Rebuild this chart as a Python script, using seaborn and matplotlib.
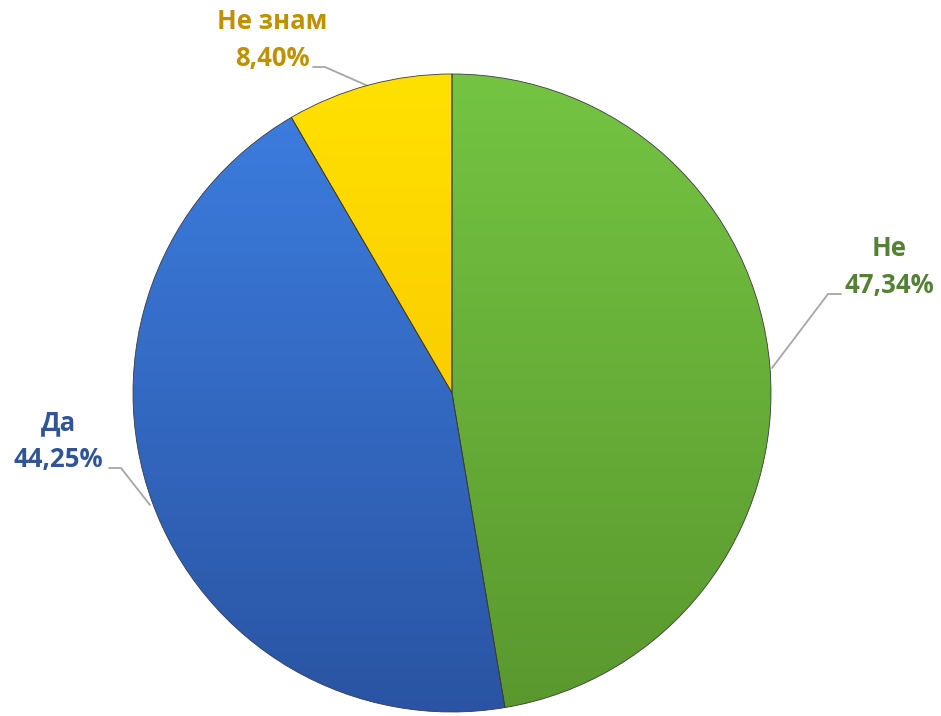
import matplotlib
matplotlib.use("Agg")
import matplotlib.pyplot as plt
from matplotlib.colors import LinearSegmentedColormap
import numpy as np
import seaborn as sns

sns.set_theme(style="white")
plt.rcParams["font.family"] = ["Open Sans", "DejaVu Sans"]

# data
categories = ["Не", "Да", "Не знам"]
shares = [47.34, 44.25, 8.40]
pct_labels = ["47,34%", "44,25%", "8,40%"]

# top / bottom shades of each slice and label colours
top_colors = ["#74c442", "#3d7fe2", "#ffe100"]
bottom_colors = ["#5a982e", "#2a54a3", "#f7b900"]
text_colors = ["#548235", "#2f5597", "#bf9000"]

W, H = 941, 716
cx, cy, r = 452, H - 393, 319

fig = plt.figure(figsize=(W / 100, H / 100), dpi=100)
ax = fig.add_axes([0, 0, 1, 1])
ax.set_xlim(0, W)
ax.set_ylim(0, H)
ax.set_aspect("equal")
ax.axis("off")

wedges, _ = ax.pie(
    shares,
    startangle=90,
    counterclock=False,
    center=(cx, cy),
    radius=r,
    colors=top_colors,
    wedgeprops=dict(edgecolor="#3a3a3a", linewidth=0.6, alpha=1),
)
ax.set_xlim(0, W)
ax.set_ylim(0, H)

# vertical gradient clipped to each slice
grad = np.linspace(1, 0, 256).reshape(-1, 1)
for w, c0, c1 in zip(wedges, top_colors, bottom_colors):
    cmap = LinearSegmentedColormap.from_list("g", [c1, c0])
    im = ax.imshow(
        grad[::-1],
        cmap=cmap,
        extent=(cx - r, cx + r, cy - r, cy + r),
        origin="lower",
        zorder=w.get_zorder() + 0.1,
        aspect="auto",
    )
    im.set_clip_path(w)
    w.set_facecolor("none")
    w.set_zorder(w.get_zorder() + 0.2)

# labels with leader lines (positions in image pixels)
label_pos = [(889, 267), (58, 441), (272, 40)]
leaders = [
    [(841, 294), (828, 294), (772, 368)],
    [(109, 468), (121, 468), (150, 505)],
    [(313, 67), (325, 67), (368, 86)],
]
for cat, pct, col, (tx, ty), pts in zip(categories, pct_labels, text_colors, label_pos, leaders):
    ax.text(tx, H - ty, f"{cat}\n{pct}", ha="center", va="center",
            color=col, fontsize=18.5, fontweight="bold", linespacing=1.5)
    xs = [p[0] for p in pts]
    ys = [H - p[1] for p in pts]
    ax.plot(xs, ys, color="#a6a6a6", linewidth=1.3, zorder=1)

fig.savefig("out.png", dpi=100)
